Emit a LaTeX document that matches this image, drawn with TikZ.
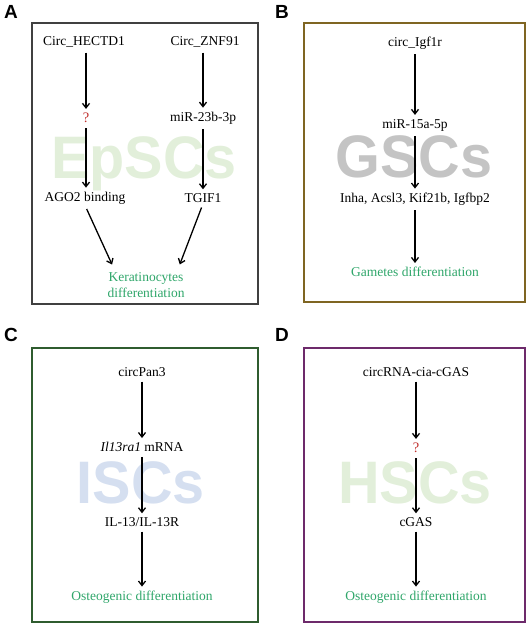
\documentclass[tikz,border=0pt]{standalone}
\usepackage{fontspec}
\setmainfont{Liberation Serif}
\setsansfont{Liberation Sans}
\usepackage{tikz}
\usetikzlibrary{arrows.meta, positioning}
\definecolor{boxA}{HTML}{404040}
\definecolor{boxB}{HTML}{7F6522}
\definecolor{boxC}{HTML}{2F5C2F}
\definecolor{boxD}{HTML}{6D2A6B}
\definecolor{diffgreen}{HTML}{2FA66A}
\definecolor{qred}{HTML}{C0302E}
\definecolor{wmgreen}{HTML}{E2EFDA}
\definecolor{wmgray}{HTML}{C4C4C4}
\definecolor{wmblue}{HTML}{D5DFF0}

\begin{document}
\begin{tikzpicture}[
  x=1pt, y=-1pt,
  panel/.style={draw, line width=2pt},
  plabel/.style={font=\sffamily\bfseries\fontsize{19}{19}\selectfont, anchor=center},
  wmtext/.style={font=\sffamily\bfseries\fontsize{60}{60}\selectfont, xscale=0.96,
                 text depth=0pt},
  txt/.style={font=\fontsize{13.5}{16}\selectfont, inner sep=1pt, align=center},
  gtxt/.style={txt, text=diffgreen},
  qmark/.style={txt, text=qred, font=\fontsize{14.5}{16}\selectfont},
  arr/.style={-{Straight Barb[length=4.5pt, width=7pt]}, line width=1.3pt,
              shorten <=4pt, shorten >=3pt}
]
  \useasboundingbox (0,0) rectangle (529,633);

  % - Panel A: EpSCs -
  \node[plabel] (labA) at (11,12) {A};
  \draw[panel, boxA] (32,23) rectangle (258,304);
  \node[wmtext, text=wmgreen] (wmA) at (144,158) {EpSCs};
  \node[txt] (hectd) at (84,42)  {Circ\_HECTD1};
  \node[txt] (znf)   at (205,42) {Circ\_ZNF91};
  \node[qmark] (qA)  at (86,118) {?};
  \node[txt] (mir23) at (203,118) {miR-23b-3p};
  \node[txt] (ago)   at (85,198) {AGO2 binding};
  \node[txt] (tgif)  at (203,198) {TGIF1};
  \node[gtxt] (kera) at (146,285) {Keratinocytes\\differentiation};

  \draw[arr] (hectd.south -| qA) -- (qA);
  \draw[arr] (qA) -- (ago.north -| qA);
  \draw[arr] (znf.south -| mir23) -- (mir23);
  \draw[arr] (mir23) -- (tgif);
  \draw[arr] (ago.south) -- ([xshift=7pt, yshift=4pt]kera.north west);
  \draw[arr] (tgif.south) -- ([xshift=-7pt, yshift=4pt]kera.north east);

  % - Panel B: GSCs -
  \node[plabel] (labB) at (282,12) {B};
  \draw[panel, boxB] (304,23) rectangle (525,302);
  \node[wmtext, text=wmgray] (wmB) at (414,157) {GSCs};
  \node[txt] (igf)   at (415,43)  {circ\_Igf1r};
  \node[txt] (mir15) at (415,125) {miR-15a-5p};
  \node[txt] (inha)  at (415,199) {Inha, Acsl3, Kif21b, Igfbp2};
  \node[gtxt] (gam)  at (415,272) {Gametes differentiation};

  \draw[arr] (igf) -- (mir15);
  \draw[arr] (mir15) -- (inha);
  \draw[arr] (inha) -- (gam);

  % - Panel C: ISCs -
  \node[plabel] (labC) at (11,335) {C};
  \draw[panel, boxC] (32,348) rectangle (258,622);
  \node[wmtext, text=wmblue] (wmC) at (141,483) {ISCs};
  \node[txt] (pan3)  at (142,372) {circPan3};
  \node[txt] (il13m) at (142,447) {\textit{Il13ra1} mRNA};
  \node[txt] (il13r) at (142,522) {IL-13/IL-13R};
  \node[gtxt] (osC)  at (142,597) {Osteogenic differentiation};

  \draw[arr] (pan3) -- (il13m);
  \draw[arr] (il13m) -- (il13r);
  \draw[arr] (il13r) -- (osC);

  % - Panel D: HSCs -
  \node[plabel] (labD) at (282,335) {D};
  \draw[panel, boxD] (304,348) rectangle (525,622);
  \node[wmtext, text=wmgreen] (wmD) at (415,483) {HSCs};
  \node[txt] (cia)  at (416,372) {circRNA-cia-cGAS};
  \node[qmark] (qD) at (416,448) {?};
  \node[txt] (cgas) at (416,522) {cGAS};
  \node[gtxt] (osD) at (416,597) {Osteogenic differentiation};

  \draw[arr] (cia) -- (qD);
  \draw[arr] (qD) -- (cgas);
  \draw[arr] (cgas) -- (osD);
\end{tikzpicture}
\end{document}
